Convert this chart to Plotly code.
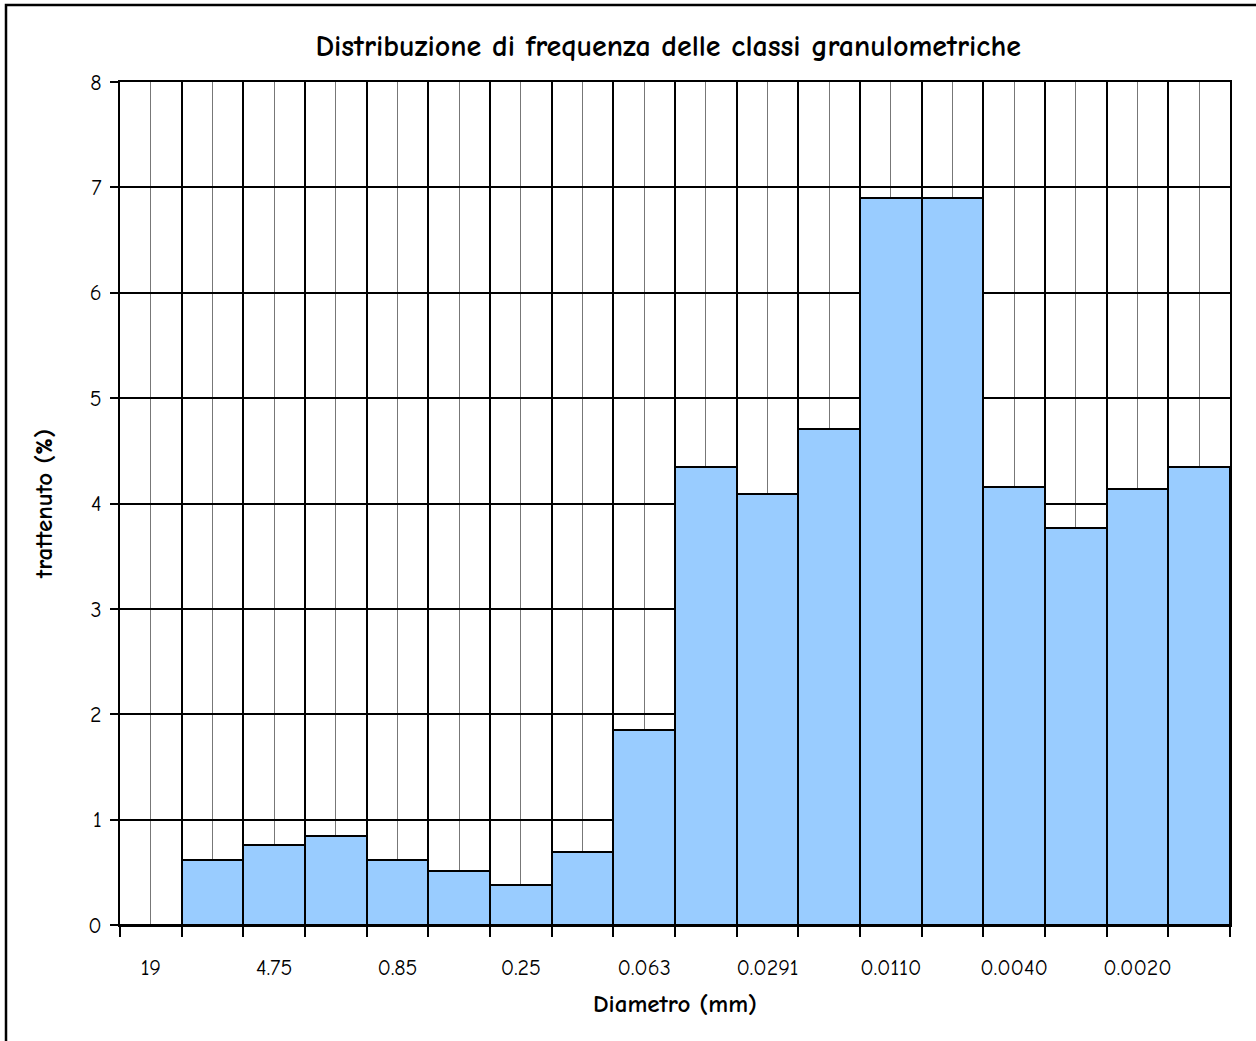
"""Distribuzione di frequenza delle classi granulometriche - Plotly."""

import plotly.graph_objects as go

# classi granulometriche (mm), una per barra
diametri = ["19", "9.5", "4.75", "2.00", "0.85", "0.425", "0.25", "0.125", "0.063",
            "0.0420", "0.0291", "0.0180", "0.0110", "0.0070", "0.0040", "0.0030",
            "0.0020", "0.0010"]
# trattenuto (%)
trattenuto = [0.0, 0.62, 0.76, 0.84, 0.62, 0.51, 0.38, 0.69, 1.85,
              4.35, 4.09, 4.71, 6.90, 6.90, 4.16, 3.77, 4.14, 4.35]
# solo un'etichetta su due e' visibile sull'asse
etichette = [d if i % 2 == 0 else "" for i, d in enumerate(diametri)]

FONT = "Comic Sans MS, Comic Neue, Lato, DejaVu Sans, sans-serif"

posizioni = list(range(len(diametri)))

fig = go.Figure()
fig.add_trace(go.Bar(
    x=posizioni, y=trattenuto, width=1.0,
    marker=dict(color="#99CCFF", line=dict(color="black", width=2)),
    hovertext=diametri, showlegend=False,
))

fig.update_layout(
    width=1256, height=1041,
    margin=dict(l=120, r=26, t=82, b=116),
    paper_bgcolor="white", plot_bgcolor="white",
    font=dict(family=FONT, color="black", size=22),
    title=dict(text="<b>Distribuzione di frequenza delle classi granulometriche</b>",
               x=0.532, xanchor="center", y=0.956, yanchor="middle",
               font=dict(size=30, family=FONT)),
    bargap=0,
)

fig.update_xaxes(
    range=[-0.5, len(diametri) - 0.5],
    tickmode="array", tickvals=posizioni, ticktext=etichette,
    ticks="", showgrid=True, gridcolor="#777777", gridwidth=1,
    minor=dict(tick0=-0.5, dtick=1, ticks="outside", ticklen=10, tickwidth=2,
               tickcolor="black", showgrid=True, gridcolor="black", gridwidth=2),
    showline=True, linecolor="black", linewidth=2, mirror=True,
    zeroline=False, ticklabelstandoff=22,
    title=dict(text="<b>Diametro (mm)</b>", font=dict(size=25, family=FONT), standoff=14),
    tickfont=dict(size=22),
)
fig.update_yaxes(
    range=[0, 8], dtick=1,
    ticks="outside", ticklen=8, tickwidth=2, tickcolor="black",
    showgrid=True, gridcolor="black", gridwidth=2,
    showline=True, linecolor="black", linewidth=2, mirror=True,
    zeroline=False, ticklabelstandoff=4,
    title=dict(text="<b>trattenuto (%)</b>", font=dict(size=25, family=FONT), standoff=28),
    tickfont=dict(size=22),
)

# cornice esterna del grafico
fig.add_shape(type="rect", xref="paper", yref="paper",
              x0=-0.1027, x1=1.05, y0=-0.15, y1=1.0913,
              line=dict(color="black", width=2.5), layer="below")

# niente margine della pagina: il grafico parte dall'angolo in alto a sinistra
fig.write_html("out.html", config={"displayModeBar": False},
               post_script="document.body.style.margin='0';")
